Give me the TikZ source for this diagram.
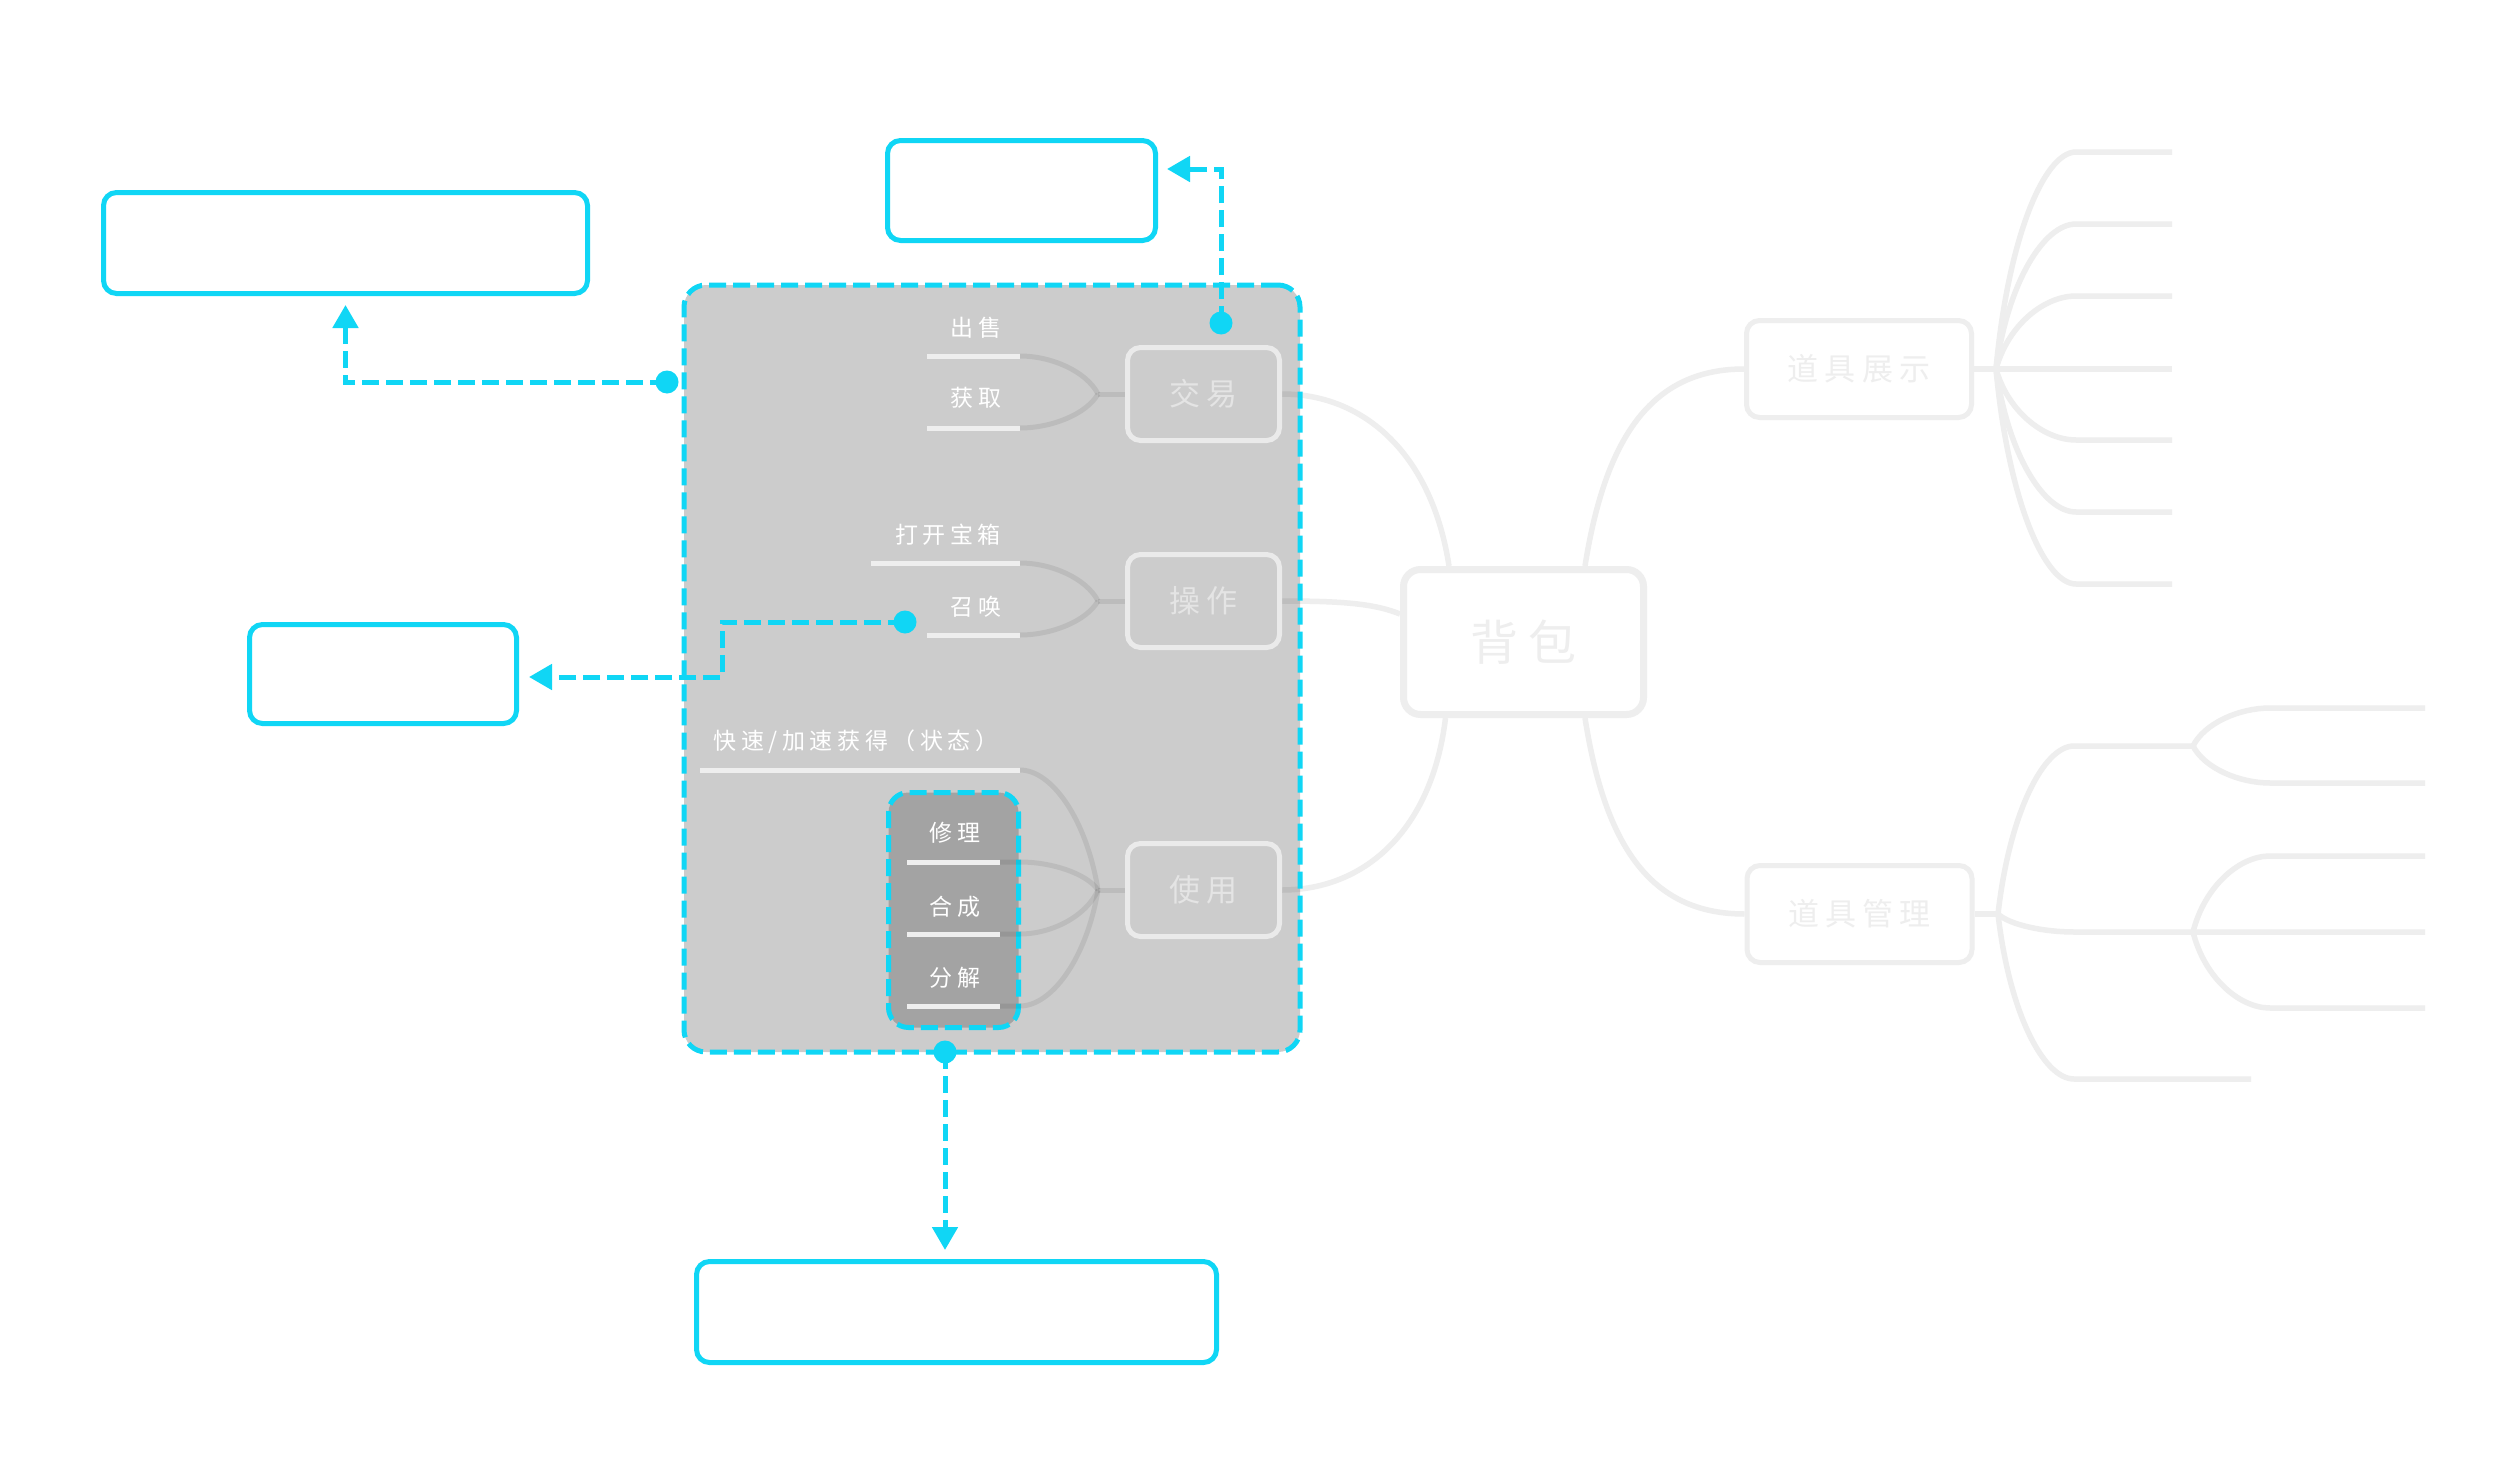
\documentclass[tikz,border=0pt]{standalone}
\usepackage{fontspec}
\newfontfamily\cjk[LetterSpace=20]{Noto Sans CJK SC}
\usetikzlibrary{arrows.meta,calc}
\definecolor{cy}{HTML}{10D6F5}
\definecolor{lite}{HTML}{EEEEEE}
\definecolor{gboxln}{HTML}{EAEAEA}
\definecolor{gboxtx}{HTML}{E4E4E4}
\pgfdeclarelayer{under}
\pgfsetlayers{under,main}
\begin{document}
\begin{tikzpicture}[x=1pt,y=-1pt,
  cybox/.style={draw=cy,line width=5pt,rounded corners=13pt,fill=white,inner sep=0pt},
  gbox/.style={draw=gboxln,line width=5pt,rounded corners=13pt,inner sep=0pt,
     minimum width=152pt,minimum height=93pt,text=gboxtx,font=\cjk\fontsize{31}{31}\selectfont},
  wbox/.style={draw=lite,line width=5pt,rounded corners=13pt,fill=white,inner sep=0pt,
     minimum width=225pt,minimum height=97pt,text=lite,font=\cjk\fontsize{31}{31}\selectfont},
  leaf/.style={text=white,inner sep=0pt,font=\cjk\fontsize{23}{23}\selectfont},
  uline/.style={draw=lite,line width=5pt},
  branch/.style={draw=black,draw opacity=0.075,line width=5pt},
  rline/.style={draw=lite,line width=5.5pt},
  cydash/.style={draw=cy,line width=5pt,dash pattern=on 17pt off 7pt},
  cydot/.style={circle,fill=cy,inner sep=0pt,minimum size=23pt},
  tipend/.style={-{Triangle[length=23pt,width=25pt]},shorten >=9pt},
  greyzone/.style={fill=black,fill opacity=0.2,rounded corners=#1,inner sep=0pt},
]
\useasboundingbox (0,0) rectangle (2520,1464);

% highlighted container and inner group
\node[greyzone=22pt,cydash,minimum width=616pt,minimum height=767pt] (hl) at (992,668.5) {};
\node[greyzone=20pt,cydash,minimum width=130pt,minimum height=235pt] (ib) at (953.5,910) {};

% main topic boxes
\node[gbox] (jy) at (1203.5,394) {交易};
\node[gbox] (cz) at (1203.5,601) {操作};
\node[gbox] (sy) at (1203.5,890) {使用};
\node[wbox,line width=7pt,rounded corners=17pt,minimum width=240pt,minimum height=145pt,
      font=\cjk\fontsize{48}{48}\selectfont] (bb) at (1523.5,642) {背包};
\node[wbox] (zs) at (1859,369) {道具展示};
\node[wbox] (gl) at (1859.5,914) {道具管理};

% junctions
\coordinate (j1) at (1098,394);
\coordinate (j2) at (1098,601);
\coordinate (j3) at (1098,890);
\coordinate (j4) at (1996,369);
\coordinate (j5) at (1998,914);
\coordinate (s1) at (2193,746);
\coordinate (s2) at (2193,932);

% left branches (grey)
\draw[branch] (j1) -- (jy.west);
\draw[branch] (j2) -- (cz.west);
\draw[branch] (j3) -- (sy.west);
\draw[branch] (j1) .. controls +(-11.7,-22.8) and +(31.2,0) .. (1020,356);
\draw[branch] (j1) .. controls +(-11.7,20.4) and +(31.2,0) .. (1020,428);
\draw[branch] (j2) .. controls +(-11.7,-22.8) and +(31.2,0) .. (1020,563);
\draw[branch] (j2) .. controls +(-11.7,20.4) and +(31.2,0) .. (1020,635);
\draw[branch] (j3) .. controls +(-11.7,-72) and +(31.2,0) .. (1020,770);
\draw[branch] (j3) .. controls +(-11.7,-16.8) and +(31.2,0) .. (1020,862) -- (1000,862);
\draw[branch] (j3) .. controls +(-11.7,26.4) and +(31.2,0) .. (1020,934) -- (1000,934);
\draw[branch] (j3) .. controls +(-11.7,69.6) and +(31.2,0) .. (1020,1006) -- (1000,1006);

% leaves
\draw[uline] (927,356) -- (1020,356);
\draw[uline] (927,428) -- (1020,428);
\draw[uline] (871,563) -- (1020,563);
\draw[uline] (927,635) -- (1020,635);
\draw[uline] (700,770) -- (1020,770);
\draw[uline] (907,862) -- (1000,862);
\draw[uline] (907,934) -- (1000,934);
\draw[uline] (907,1006) -- (1000,1006);
\node[leaf] (t1) at (976,328) {出售};
\node[leaf] (t2) at (976,398) {获取};
\node[leaf] (t3) at (948,535) {打开宝箱};
\node[leaf] (t4) at (976,607) {召唤};
\node[leaf] (t5) at (856,742) {快速/加速获得（状态）};
\node[leaf] (t6) at (955,833) {修理};
\node[leaf] (t7) at (955,907) {合成};
\node[leaf] (t8) at (955,978) {分解};

% right side connectors (light), below the grey highlight
\begin{pgfonlayer}{under}
\fill[white] (0,0) rectangle (2520,1464);
\draw[rline] (jy.east) .. controls (1365,394) and (1432,455) .. ([xshift=-74.5pt]bb.north);
\draw[rline] (cz.east) .. controls (1345,601) and (1375,604) .. ([yshift=28pt]bb.west);
\draw[rline] (sy.east) .. controls (1365,890) and (1432,830) .. ([xshift=-78pt]bb.south);
\draw[rline] ([xshift=61.5pt]bb.north) .. controls (1605,440) and (1650,369) .. (zs.west);
\draw[rline] ([xshift=61.5pt]bb.south) .. controls (1605,845) and (1650,914) .. (gl.west);
\draw[rline] (zs.east) -- (2172,369);
\foreach \yy/\dd in {152/-130.2,224/-87,296/-43.8,440/42.6,512/85.8,584/129}
  \draw[rline] (j4) .. controls +(12,\dd) and +(-32,0) .. (2076,\yy) -- (2172,\yy);
\draw[rline] (gl.east) -- (j5);
\draw[rline] (j5) .. controls +(11.4,-100.8) and +(-30.4,0) .. (2074,746) -- (s1);
\draw[rline] (j5) .. controls +(11.4,10.8) and +(-30.4,0) .. (2074,932) -- (2425,932);
\draw[rline] (j5) .. controls +(11.4,99) and +(-30.4,0) .. (2074,1079) -- (2251,1079);
\draw[rline] (s1) .. controls +(11.5,-22.8) and +(-30.8,0) .. (2270,708) -- (2425,708);
\draw[rline] (s1) .. controls +(11.5,22.2) and +(-30.8,0) .. (2270,783) -- (2425,783);
\draw[rline] (s2) .. controls +(11.5,-45.6) and +(-30.8,0) .. (2270,856) -- (2425,856);
\draw[rline] (s2) .. controls +(11.5,45.6) and +(-30.8,0) .. (2270,1008) -- (2425,1008);
\end{pgfonlayer}

% cyan callout boxes
\node[cybox,minimum width=484pt,minimum height=101pt] (tl) at (345.5,243) {};
\node[cybox,minimum width=268pt,minimum height=100pt] (tc) at (1021.5,190.5) {};
\node[cybox,minimum width=267pt,minimum height=99pt] (ml) at (383,674) {};
\node[cybox,minimum width=520pt,minimum height=101pt] (bt) at (956.5,1312) {};

% dots
\node[cydot] (d1) at (667,382) {};
\node[cydot] (d2) at (1221,323) {};
\node[cydot] (d3) at (905,622) {};
\node[cydot] (d4) at (945,1052) {};
\coordinate (m0) at (722,622);
\coordinate (m1) at (722,677);

% cyan connectors
\draw[cydash,tipend] (d1.center) -| (tl.south);
\draw[cydash,tipend] (d2.center) |- ([yshift=21.5pt]tc.east);
\draw[cydash,tipend,shorten >=10pt] (d3.center) -- (m0) -- (m1) -- (m1 -| ml.east);
\draw[cydash,tipend] (d4.center) -- (d4 |- bt.north);
\end{tikzpicture}
\end{document}
